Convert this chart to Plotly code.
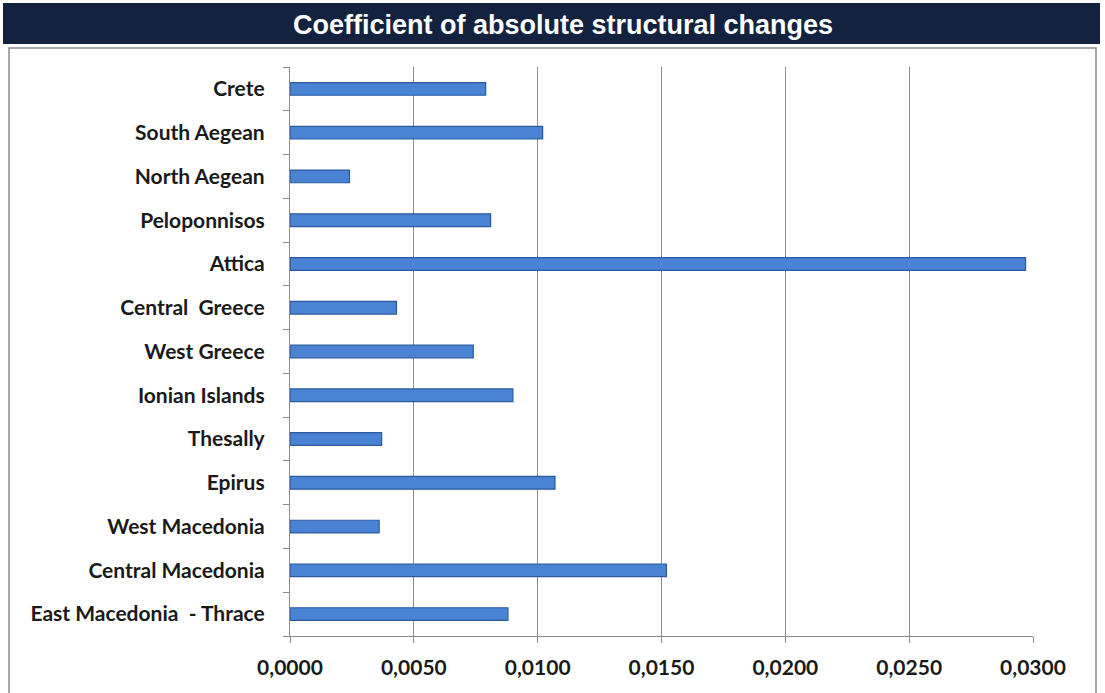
import plotly.graph_objects as go

regions = ["East Macedonia  - Thrace", "Central Macedonia", "West Macedonia", "Epirus",
           "Thesally", "Ionian Islands", "West Greece", "Central  Greece", "Attica",
           "Peloponnisos", "North Aegean", "South Aegean", "Crete"]
values = [0.0088, 0.0152, 0.0036, 0.0107, 0.0037, 0.0090, 0.0074, 0.0043, 0.0297,
          0.0081, 0.0024, 0.0102, 0.0079]
x_ticks = [0.0, 0.005, 0.010, 0.015, 0.020, 0.025, 0.030]
title_text = "Coefficient of absolute structural changes"

W, H = 1105, 693
L, R, T, B = 290, 72, 67, 57
pw, ph = W - L - R, H - T - B

def px(x):
    return (x - L) / pw

def py(y):
    return (H - B - y) / ph

fig = go.Figure()
fig.add_trace(go.Bar(
    y=regions, x=values, orientation="h", width=0.29,
    marker=dict(color="#4A82D4", line=dict(color="#2B5A9E", width=1.2)),
    hoverinfo="x+y",
))

lab_font = dict(family="Lato", size=21, color="#1a1a1a", weight="bold")

fig.update_layout(
    width=W, height=H,
    margin=dict(l=L, r=R, t=T, b=B),
    paper_bgcolor="white", plot_bgcolor="white",
    separators=",.",
    showlegend=False,
    xaxis=dict(range=[0, 0.03], tickvals=x_ticks, tickformat=".4f",
               showgrid=True, gridcolor="#8c8c8c", gridwidth=1.2,
               showline=True, linecolor="#8c8c8c", linewidth=1.2,
               ticks="outside", ticklen=6, tickcolor="#8c8c8c",
               zeroline=False, ticklabelstandoff=7,
               tickfont=lab_font),
    yaxis=dict(type="category", categoryorder="array", categoryarray=regions,
               showline=True, linecolor="#8c8c8c", linewidth=1.2,
               ticks="outside", ticklen=6, tickcolor="#8c8c8c", tickson="boundaries",
               showgrid=False, ticklabelstandoff=20,
               tickfont=lab_font),
    shapes=[
        dict(type="rect", xref="paper", yref="paper",
             x0=px(3), x1=px(1100), y0=py(44), y1=py(3),
             fillcolor="#13233F", line=dict(width=0), layer="below"),
        dict(type="rect", xref="paper", yref="paper",
             x0=px(9), x1=px(1096), y0=py(698), y1=py(48),
             fillcolor="rgba(0,0,0,0)", line=dict(color="#8c8c8c", width=1.5)),
    ],
    annotations=[
        dict(text="<b>" + title_text + "</b>", xref="paper", yref="paper",
             x=px(563), y=py(25), showarrow=False,
             font=dict(family="Liberation Sans", size=27, color="white"),
             xanchor="center", yanchor="middle"),
    ],
)

fig.write_html("out.html", config={"displayModeBar": False},
               post_script="document.body.style.margin='0';")
